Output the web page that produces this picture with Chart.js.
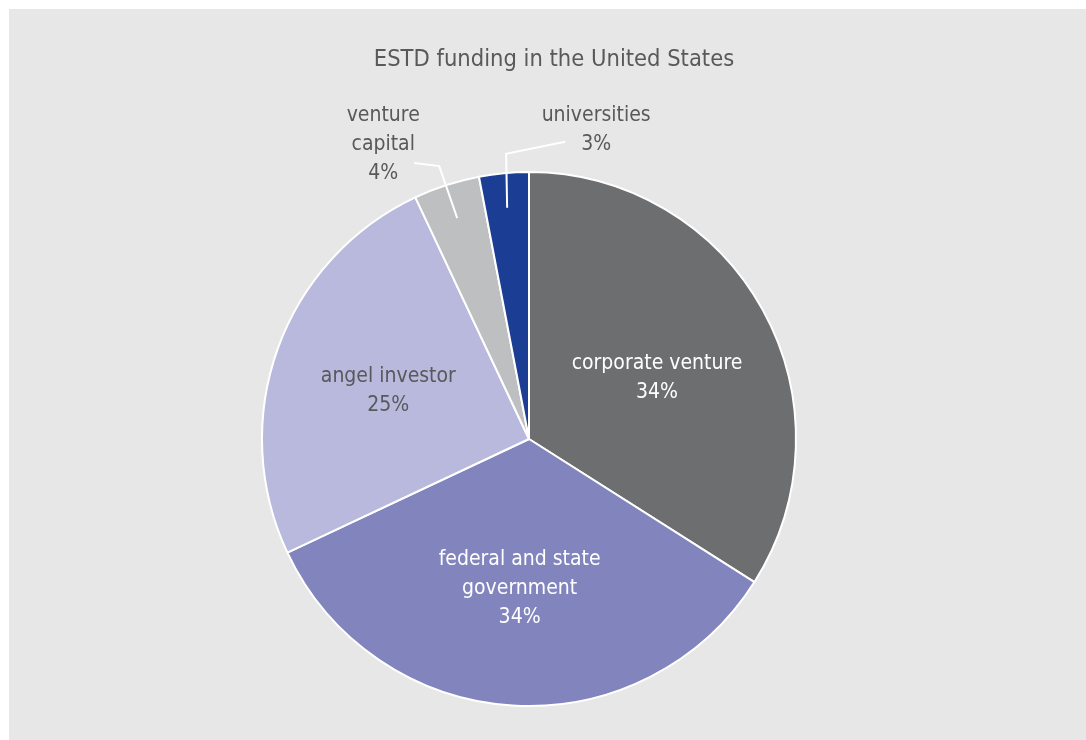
<!DOCTYPE html>
<html>
<head>
<meta charset="utf-8">
<script src="https://cdn.jsdelivr.net/npm/chart.js@4.4.1/dist/chart.umd.min.js"></script>
<style>
  html, body { margin: 0; padding: 0; background: #ffffff; }
  #wrap { position: absolute; left: 9px; top: 9px; width: 1077px; height: 731px; background: #e6e7e6; }
</style>
</head>
<body>
<div id="wrap"><canvas id="fundingPie" width="1077" height="731"></canvas></div>
<script>
const fontFamily = "'Liberation Sans Narrow', 'DejaVu Sans Condensed', Roboto, sans-serif";

const categories = ['corporate venture', 'federal and state government', 'angel investor', 'venture capital', 'universities'];
const shares = [34, 34, 25, 4, 3];
// how each label is split over lines
const labelLines = [
    ['corporate venture'],
    ['federal and state', 'government'],
    ['angel investor'],
    ['venture', 'capital'],
    ['universities']
];
const sliceColors = ['#6d6e70', '#8285bd', '#b8b9dc', '#bebfc1', '#1b3d93'];
const labelColors = ['#ffffff', '#ffffff', '#58595b', '#58595b', '#58595b'];
// small shifts for the labels drawn inside their slice
const insideNudge = [[-3, 11], [0, 0], [0, 3]];

// labels for the thin slices sit outside with a leader line
const outside = {
    3: { elbowDx: -18, elbowDy: -52, endDx: -25, endDy: -3, textDx: -56, textDy: -22 },
    4: { elbowDx: -1, elbowDy: -54, endDx: 59, endDy: -12, textDx: 90, textDy: -24 }
};

const sliceLabels = {
    id: 'sliceLabels',
    afterDatasetsDraw(chart) {
        const ctx = chart.ctx;
        const meta = chart.getDatasetMeta(0);
        ctx.save();
        ctx.font = '21px ' + fontFamily;
        ctx.textAlign = 'center';
        ctx.textBaseline = 'middle';
        const lineH = 29;
        meta.data.forEach((arc, i) => {
            const { x, y, startAngle, endAngle, outerRadius } = arc.getProps(['x', 'y', 'startAngle', 'endAngle', 'outerRadius'], true);
            const mid = (startAngle + endAngle) / 2;
            const lines = labelLines[i].concat([shares[i] + '%']);
            let cx, cy;
            if (outside[i]) {
                const o = outside[i];
                const px = x + Math.cos(mid) * outerRadius * 0.87;
                const py = y + Math.sin(mid) * outerRadius * 0.87;
                const ex = px + o.elbowDx, ey = py + o.elbowDy;
                ctx.strokeStyle = '#ffffff';
                ctx.lineWidth = 2;
                ctx.beginPath();
                ctx.moveTo(px, py);
                ctx.lineTo(ex, ey);
                ctx.lineTo(ex + o.endDx, ey + o.endDy);
                ctx.stroke();
                cx = ex + o.textDx;
                cy = ey + o.textDy;
            } else {
                const r = outerRadius * 0.56;
                cx = x + Math.cos(mid) * r + insideNudge[i][0];
                cy = y + Math.sin(mid) * r + insideNudge[i][1];
            }
            ctx.fillStyle = labelColors[i];
            const top = cy - (lines.length - 1) * lineH / 2;
            lines.forEach((t, k) => ctx.fillText(t, cx, top + k * lineH));
        });
        // chart title
        ctx.fillStyle = '#58595b';
        ctx.font = '23.5px ' + fontFamily;
        ctx.fillText('ESTD funding in the United States', 545, 51);
        ctx.restore();
    }
};

new Chart(document.getElementById('fundingPie').getContext('2d'), {
    type: 'pie',
    data: {
        labels: categories,
        datasets: [{
            data: shares,
            backgroundColor: sliceColors,
            borderColor: '#ffffff',
            borderWidth: 2
        }]
    },
    options: {
        responsive: false,
        animation: false,
        layout: {
            padding: { left: 252, right: 289, top: 162, bottom: 33 }
        },
        plugins: {
            legend: { display: false },
            tooltip: { enabled: false }
        }
    },
    plugins: [sliceLabels]
});
</script>
</body>
</html>
